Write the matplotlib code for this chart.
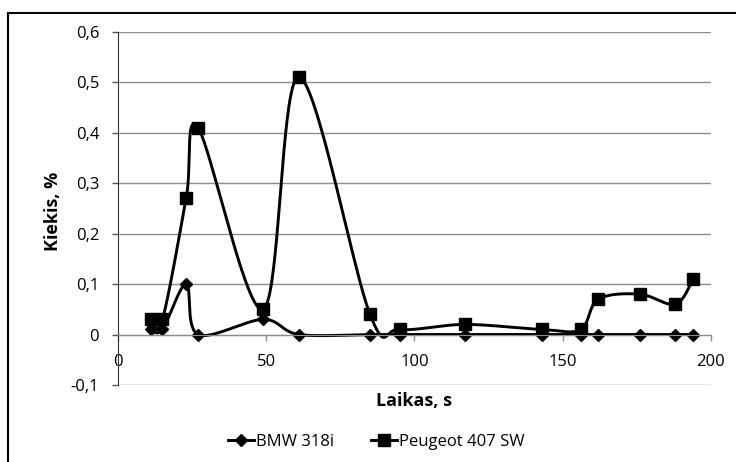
import numpy as np
import matplotlib
matplotlib.use("Agg")
import matplotlib.pyplot as plt
from matplotlib.lines import Line2D
from matplotlib.ticker import FuncFormatter

plt.rcParams["font.family"] = ["Open Sans", "DejaVu Sans"]

# data
time_s = [11, 15, 23, 27, 49, 61, 85, 95, 117, 143, 156, 162, 176, 188, 194]
bmw = [0.01, 0.01, 0.10, 0.0, 0.03, 0.0, 0.0, 0.0, 0.0, 0.0, 0.0, 0.0, 0.0, 0.0, 0.0]
peugeot = [0.03, 0.03, 0.27, 0.41, 0.05, 0.51, 0.04, 0.01, 0.02, 0.01, 0.01, 0.07, 0.08, 0.06, 0.11]
series_names = ["BMW 318i", "Peugeot 407 SW"]


def smooth(x, y, n=40):
    # Catmull-Rom curve through the points, like Excel's "smoothed line"
    p = np.column_stack([x, y]).astype(float)
    p = np.vstack([p[0], p, p[-1]])
    out = []
    for i in range(1, len(p) - 2):
        p0, p1, p2, p3 = p[i - 1], p[i], p[i + 1], p[i + 2]
        c1 = p1 + (p2 - p0) / 6
        c2 = p2 - (p3 - p1) / 6
        t = np.linspace(0, 1, n)[:, None]
        seg = ((1 - t) ** 3) * p1 + 3 * ((1 - t) ** 2) * t * c1 + 3 * (1 - t) * t ** 2 * c2 + t ** 3 * p2
        out.append(seg)
    out = np.vstack(out)
    return out[:, 0], out[:, 1]


fig = plt.figure(figsize=(7.36, 4.62), dpi=100)
ax = fig.add_axes([0.1603, 0.1667, 0.8057, 0.7647])

ax.set_xlim(0, 200)
ax.set_ylim(-0.1, 0.6)
ax.set_yticks(np.arange(-0.1, 0.61, 0.1))
ax.set_xticks([0, 50, 100, 150, 200])
ax.grid(axis="y", color="#8c8c8c", lw=1)
ax.set_axisbelow(True)

for s in ["top", "right"]:
    ax.spines[s].set_visible(False)
ax.spines["bottom"].set_position(("data", 0))
ax.spines["bottom"].set_color("#8c8c8c")
ax.spines["left"].set_color("#333333")

fmt = FuncFormatter(lambda v, p: "0" if abs(v) < 1e-9 else ("%.1f" % v).replace(".", ","))
ax.yaxis.set_major_formatter(fmt)
ax.tick_params(axis="y", length=4.5, width=1, color="#555555", pad=9, labelsize=12)
ax.tick_params(axis="x", length=4, width=1, color="#8c8c8c", pad=10, labelsize=12)

xs, ys = smooth(time_s, bmw)
ax.plot(xs, ys, color="black", lw=2.1)
ax.plot(time_s, bmw, ls="none", marker="D", ms=6, color="black")
xs, ys = smooth(time_s, peugeot)
ax.plot(xs, ys, color="black", lw=2.1)
ax.plot(time_s, peugeot, ls="none", marker="s", ms=8.5, color="black")

ax.set_xlabel("Laikas, s", fontsize=13, fontweight="bold")
ax.xaxis.set_label_coords(0.5, -0.02)
ax.set_ylabel("Kiekis, %", fontsize=13, fontweight="bold")
ax.yaxis.set_label_coords(-0.094, 0.49)

handles = [
    Line2D([], [], color="black", lw=2.1, marker="D", ms=6),
    Line2D([], [], color="black", lw=2.1, marker="s", ms=8.5),
]
fig.legend(handles, series_names, loc="center", bbox_to_anchor=(0.511, 0.043), ncol=2,
           frameon=False, fontsize=12, handlelength=1.6, handletextpad=0.1, columnspacing=2.2)

# outer chart frame (cut off at right and bottom)
fig.add_artist(Line2D([8 / 736, 1.01], [1 - 13 / 462] * 2, transform=fig.transFigure, color="black", lw=1.5))
fig.add_artist(Line2D([8 / 736] * 2, [-0.01, 1 - 13 / 462], transform=fig.transFigure, color="black", lw=1.5))

fig.savefig("out.png", dpi=100)
